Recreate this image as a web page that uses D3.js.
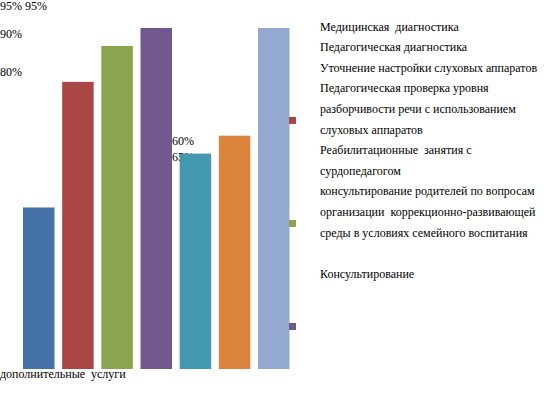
<!DOCTYPE html>
<html>
<head>
<meta charset="utf-8">
<script src="https://cdn.jsdelivr.net/npm/d3@7"></script>
<style>
  body { margin: 0; background: #fff; }
  svg { display: block; }
  text { font-family: "Liberation Serif", "Times New Roman", serif; font-size: 12px; fill: #000; white-space: pre; }
</style>
</head>
<body>
<svg width="548" height="396"></svg>
<script>
// categories (legend text, "\n" = line break)
let categories = [
  "Медицинская  диагностика",
  "Педагогическая диагностика",
  "Уточнение настройки слуховых аппаратов",
  "Педагогическая проверка уровня\nразборчивости речи с использованием\nслуховых аппаратов",
  "Реабилитационные  занятия с\nсурдопедагогом",
  "консультирование родителей по вопросам\nорганизации  коррекционно-развивающей\nсреды в условиях семейного воспитания",
  "\nКонсультирование"
];
let values = [45, 80, 90, 95, 60, 65, 95];
let colors = ["#4572A7", "#AA4643", "#89A54E", "#71588F", "#4198AF", "#DB843D", "#93A9CF"];
let axisTitle = "дополнительные  услуги";

// where the data labels ended up (they are not over their bars in the original)
let labelSpots = [
  { i: 3, x: 0, y: 10 },
  { i: 6, x: 25, y: 10 },
  { i: 2, x: 0, y: 38 },
  { i: 1, x: 0, y: 76 },
  { i: 4, x: 172, y: 145 },
  { i: 5, x: 172, y: 161 }
];

let svg = d3.select("svg");

var xScale = d3.scaleBand()
  .domain(d3.range(values.length))
  .range([23, 289.5])
  .paddingInner(0.196)
  .paddingOuter(0);

var yScale = d3.scaleLinear().domain([0, 95]).range([369, 28]);

// labels first, the bars cover part of them
svg.append("g")
  .selectAll("text")
  .data(labelSpots)
  .enter()
  .append("text")
  .attr("x", d => d.x)
  .attr("y", d => d.y)
  .text(d => values[d.i] + "%");

svg.append("g")
  .selectAll("rect")
  .data(values)
  .enter()
  .append("rect")
  .attr("x", (d, i) => xScale(i))
  .attr("y", d => yScale(d))
  .attr("width", xScale.bandwidth())
  .attr("height", d => yScale(0) - yScale(d))
  .attr("fill", (d, i) => colors[i]);

// little legend keys sticking out of the last bar
svg.append("g")
  .selectAll("rect")
  .data([1, 2, 3])
  .enter()
  .append("rect")
  .attr("x", 289)
  .attr("y", (d, k) => 117 + k * 103)
  .attr("width", 7)
  .attr("height", 7)
  .attr("fill", d => colors[d]);

// legend text
let lines = categories.join("\n").split("\n");
svg.append("g")
  .selectAll("text")
  .data(lines)
  .enter()
  .append("text")
  .attr("x", 320)
  .attr("y", (d, i) => 30.5 + i * 20.6)
  .text(d => d);

svg.append("text")
  .attr("x", 0)
  .attr("y", 378)
  .text(axisTitle);
</script>
</body>
</html>
